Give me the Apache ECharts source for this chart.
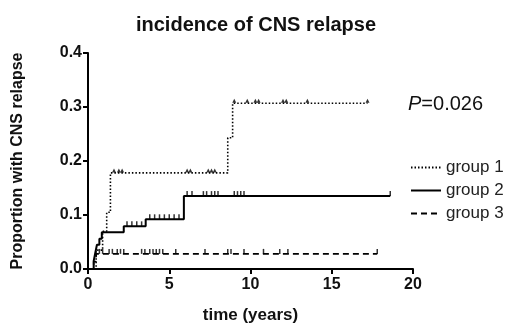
<!DOCTYPE html>
<html lang="en">
<head>
    <meta charset="UTF-8">
    <title>incidence of CNS relapse</title>
    <style>
        body { margin: 0; background: #fff; }
        #chart { width: 520px; height: 333px; }
    </style>
    <script src="https://cdn.jsdelivr.net/npm/echarts@6/dist/echarts.min.js"></script>
</head>
<body>
<div id="chart"></div>
<script>
    // step points: [time, cumulative incidence after the step]
    var group1 = [[0, 0], [0.5, 0.035], [0.9, 0.07], [1.15, 0.105], [1.38, 0.178], [8.6, 0.243], [8.9, 0.307], [17.2, 0.307]];
    var group2 = [[0, 0], [0.35, 0.015], [0.45, 0.03], [0.55, 0.045], [0.7, 0.056], [0.85, 0.068], [2.2, 0.079], [3.55, 0.092], [5.9, 0.135], [18.6, 0.135]];
    var group3 = [[0, 0], [0.35, 0.014], [0.5, 0.028], [17.8, 0.028]];

    // censoring marks
    var cens1 = [[1.6, 0.178], [1.9, 0.178], [2.1, 0.178], [6.1, 0.178], [6.3, 0.178], [7.4, 0.178], [7.6, 0.178], [7.8, 0.178],
        [9.0, 0.307], [9.8, 0.307], [10.3, 0.307], [10.5, 0.307], [12.0, 0.307], [12.2, 0.307], [13.5, 0.307], [17.2, 0.307]];
    var cens2 = [[2.4, 0.079], [2.7, 0.079], [3.0, 0.079], [3.3, 0.079], [3.8, 0.092], [4.1, 0.092], [4.4, 0.092], [4.7, 0.092],
        [5.0, 0.092], [5.3, 0.092], [5.6, 0.092], [6.1, 0.135], [6.4, 0.135], [7.1, 0.135], [7.3, 0.135], [7.6, 0.135],
        [7.8, 0.135], [8.0, 0.135], [9.0, 0.135], [9.2, 0.135], [9.4, 0.135], [9.6, 0.135], [18.6, 0.135]];
    var cens3 = [[0.7, 0.028], [0.9, 0.028], [1.3, 0.028], [1.5, 0.028], [1.8, 0.028], [2.0, 0.028], [2.2, 0.028], [3.3, 0.028],
        [3.5, 0.028], [3.8, 0.028], [4.0, 0.028], [4.2, 0.028], [4.4, 0.028], [4.6, 0.028], [5.4, 0.028], [7.2, 0.028],
        [8.6, 0.028], [8.8, 0.028], [9.6, 0.028], [10.8, 0.028], [11.8, 0.028], [12.3, 0.028], [17.8, 0.028]];

    var groupNames = ['group 1', 'group 2', 'group 3'];
    var pText = '0.026';

    var chart = echarts.init(document.getElementById('chart'));
    var font = 'Liberation Sans, Arial, sans-serif';

    function censor(data, sym) {
        return {
            type: 'scatter',
            data: data,
            symbol: sym,
            symbolSize: sym === 'rect' ? [1.5, 5] : 4,
            symbolOffset: [0, -2.5],
            itemStyle: { color: '#000' },
            silent: true,
            z: 3
        };
    }

    chart.setOption({
        animation: false,
        title: {
            text: 'incidence of CNS relapse',
            left: 251, top: 10, textAlign: 'center',
            textStyle: { fontFamily: font, fontSize: 20, fontWeight: 'bold', color: '#111' }
        },
        grid: { left: 88, right: 107, top: 53, bottom: 64 },
        legend: {
            data: groupNames,
            orient: 'vertical',
            left: 405, top: 154,
            itemWidth: 30, itemHeight: 14, itemGap: 6,
            itemStyle: { color: 'rgba(0,0,0,0)', borderWidth: 0, opacity: 0 },
            textStyle: { fontFamily: font, fontSize: 17, color: '#222' }
        },
        xAxis: {
            type: 'value', min: 0, max: 20, interval: 5,
            name: 'time (years)', nameLocation: 'middle', nameGap: 38,
            nameTextStyle: { fontFamily: font, fontSize: 17, fontWeight: 'bold', color: '#111' },
            axisLine: { lineStyle: { color: '#000', width: 2 } },
            axisTick: { length: 5, lineStyle: { width: 2 } },
            axisLabel: { fontFamily: font, fontSize: 16, fontWeight: 'bold', color: '#111', margin: 8 },
            splitLine: { show: false }
        },
        yAxis: {
            type: 'value', min: 0, max: 0.4, interval: 0.1,
            name: 'Proportion with CNS relapse', nameLocation: 'middle', nameGap: 62,
            nameTextStyle: { fontFamily: font, fontSize: 16, fontWeight: 'bold', color: '#111' },
            axisLine: { show: true, lineStyle: { color: '#000', width: 2 } },
            axisTick: { show: true, length: 5, lineStyle: { width: 2 } },
            axisLabel: { fontFamily: font, fontSize: 16, fontWeight: 'bold', color: '#111', margin: 6,
                formatter: function (v) { return v.toFixed(1); } },
            splitLine: { show: false }
        },
        graphic: [{
            type: 'text', left: 408, top: 94,
            style: {
                text: '{i|P}=' + pText,
                rich: { i: { fontStyle: 'italic', fontFamily: font, fontSize: 20, fill: '#111' } },
                font: '20px ' + font, fill: '#111'
            }
        }],
        series: [
            { name: groupNames[0], type: 'line', step: 'end', data: group1, symbol: 'none',
              lineStyle: { color: '#000', width: 1.6, type: [1.5, 2] }, itemStyle: { color: '#000' } },
            { name: groupNames[1], type: 'line', step: 'end', data: group2, symbol: 'none',
              lineStyle: { color: '#000', width: 2 }, itemStyle: { color: '#000' } },
            { name: groupNames[2], type: 'line', step: 'end', data: group3, symbol: 'none',
              lineStyle: { color: '#000', width: 1.6, type: [6, 4] }, itemStyle: { color: '#000' } },
            censor(cens1, 'triangle'),
            censor(cens2, 'rect'),
            censor(cens3, 'rect')
        ]
    });
</script>
</body>
</html>
